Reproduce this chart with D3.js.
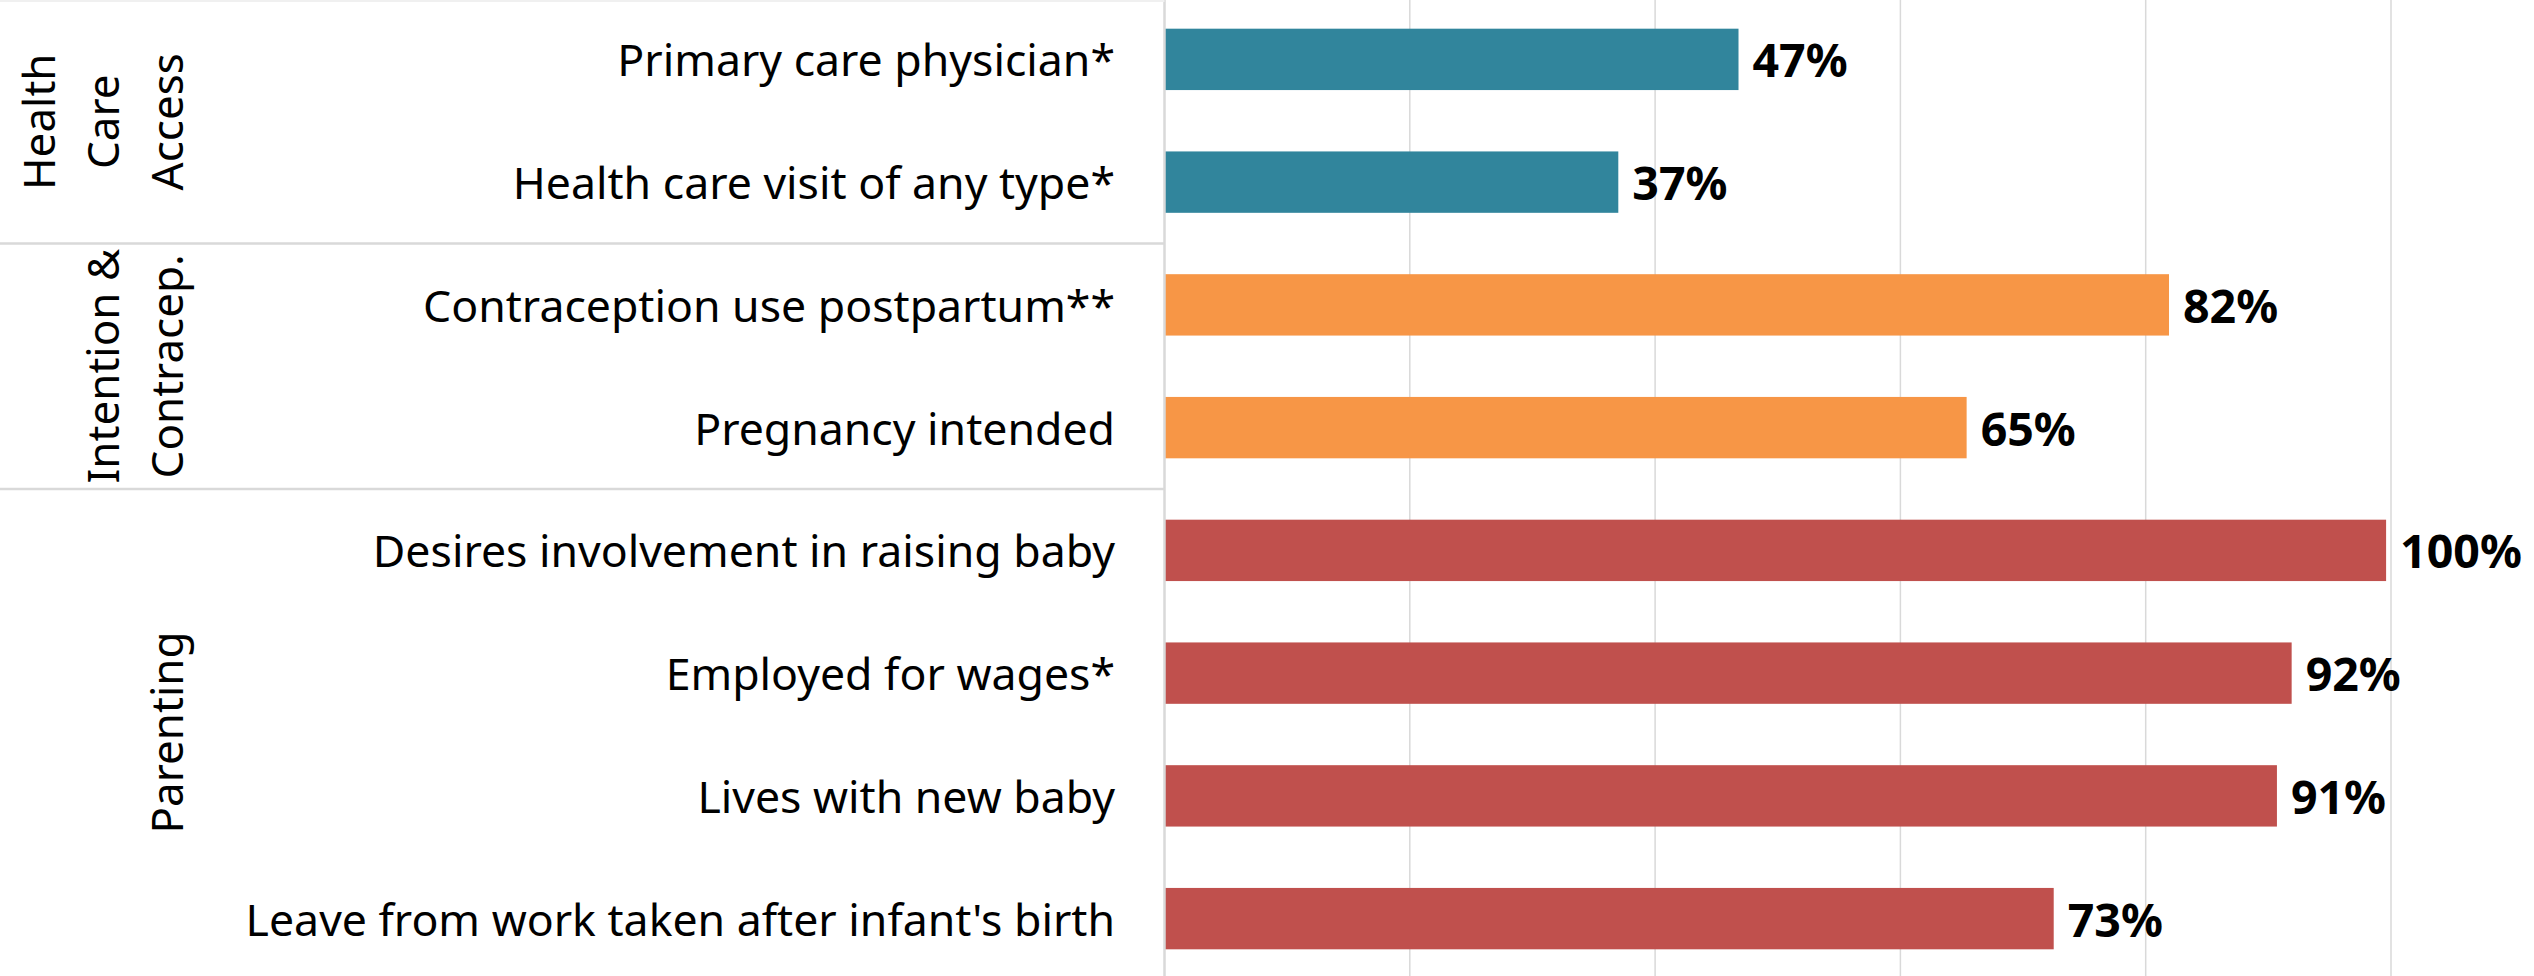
<!DOCTYPE html>
<html>
<head>
<meta charset="utf-8">
<script src="https://cdn.jsdelivr.net/npm/d3@7"></script>
<style>
  body { margin: 0; background: #fff; }
  svg { display: block; font-family: "Noto Sans", "Open Sans", sans-serif; }
</style>
</head>
<body>
<svg id="chart" width="2534" height="976"></svg>
<script>
"use strict";

// data
const categories = [
  "Primary care physician*",
  "Health care visit of any type*",
  "Contraception use postpartum**",
  "Pregnancy intended",
  "Desires involvement in raising baby",
  "Employed for wages*",
  "Lives with new baby",
  "Leave from work taken after infant's birth"
];
const values = [46.8, 37.0, 81.9, 65.4, 99.6, 91.9, 90.7, 72.5];
const groupOf = [0, 0, 1, 1, 2, 2, 2, 2];
const groupNames = [["Health", "Care", "Access"], ["Intention &", "Contracep."], ["Parenting"]];
const groupColors = ["#31859C", "#F79646", "#C0504D"];
const xTicks = [0, 20, 40, 60, 80, 100];

const W = 2534, H = 976;
const axisX = 1164.5;

const svg = d3.select("#chart");

const xScale = d3.scaleLinear()
  .domain([0, 100])
  .range([axisX, 2391]);

const yScale = d3.scaleBand()
  .domain(categories)
  .range([-2, 980])
  .paddingInner(0.5)
  .paddingOuter(0.25);

// gridlines
svg.append("g")
  .selectAll("line")
  .data(xTicks.slice(1))
  .enter()
  .append("line")
  .attr("x1", d => xScale(d))
  .attr("x2", d => xScale(d))
  .attr("y1", 0)
  .attr("y2", H)
  .attr("stroke", "#d9d9d9")
  .attr("stroke-width", 1.5);

// bars
svg.append("g")
  .selectAll("rect")
  .data(values)
  .enter()
  .append("rect")
  .attr("x", xScale(0))
  .attr("y", (d, i) => yScale(categories[i]))
  .attr("width", d => xScale(d) - xScale(0))
  .attr("height", yScale.bandwidth())
  .attr("fill", (d, i) => groupColors[groupOf[i]]);

// value labels
svg.append("g")
  .selectAll("text")
  .data(values)
  .enter()
  .append("text")
  .attr("x", d => xScale(d) + 14)
  .attr("y", (d, i) => yScale(categories[i]) + yScale.bandwidth() / 2 + 18)
  .attr("font-size", 46.5)
  .attr("font-weight", "bold")
  .attr("fill", "#000")
  .text(d => Math.round(d) + "%");

// category labels
svg.append("g")
  .selectAll("text")
  .data(categories)
  .enter()
  .append("text")
  .attr("x", 1115)
  .attr("y", d => yScale(d) + yScale.bandwidth() / 2 + 17)
  .attr("text-anchor", "end")
  .attr("font-size", 44.6)
  .attr("fill", "#000")
  .text(d => d);

// axis line and group separators
svg.append("line")
  .attr("x1", axisX).attr("x2", axisX)
  .attr("y1", 0).attr("y2", H)
  .attr("stroke", "#d9d9d9").attr("stroke-width", 2.5);
svg.append("line")
  .attr("x1", 0).attr("x2", axisX)
  .attr("y1", 1).attr("y2", 1)
  .attr("stroke", "#f0f0f0").attr("stroke-width", 2);

const step = yScale.step();
const groupBounds = groupNames.map((g, gi) => {
  const idx = groupOf.map((v, i) => v === gi ? i : -1).filter(i => i >= 0);
  const top = yScale(categories[idx[0]]) - step * yScale.paddingInner() / 2;
  const bottom = yScale(categories[idx[idx.length - 1]]) + yScale.bandwidth() + step * yScale.paddingInner() / 2;
  return {top, bottom, lines: g};
});

svg.append("g")
  .selectAll("line")
  .data(groupBounds.slice(1))
  .enter()
  .append("line")
  .attr("x1", 0)
  .attr("x2", axisX)
  .attr("y1", d => d.top)
  .attr("y2", d => d.top)
  .attr("stroke", "#d9d9d9")
  .attr("stroke-width", 2.5);

// rotated group labels, last line sits in the rightmost column
const lineGap = 64, lastBaseline = 183;
groupBounds.forEach(g => {
  const cy = (Math.max(g.top, 0) + Math.min(g.bottom, H)) / 2;
  g.lines.forEach((line, li) => {
    const bx = lastBaseline - (g.lines.length - 1 - li) * lineGap;
    svg.append("text")
      .attr("transform", `translate(${bx},${cy}) rotate(-90)`)
      .attr("text-anchor", "middle")
      .attr("font-size", 44)
      .attr("fill", "#000")
      .text(line);
  });
});
</script>
</body>
</html>
